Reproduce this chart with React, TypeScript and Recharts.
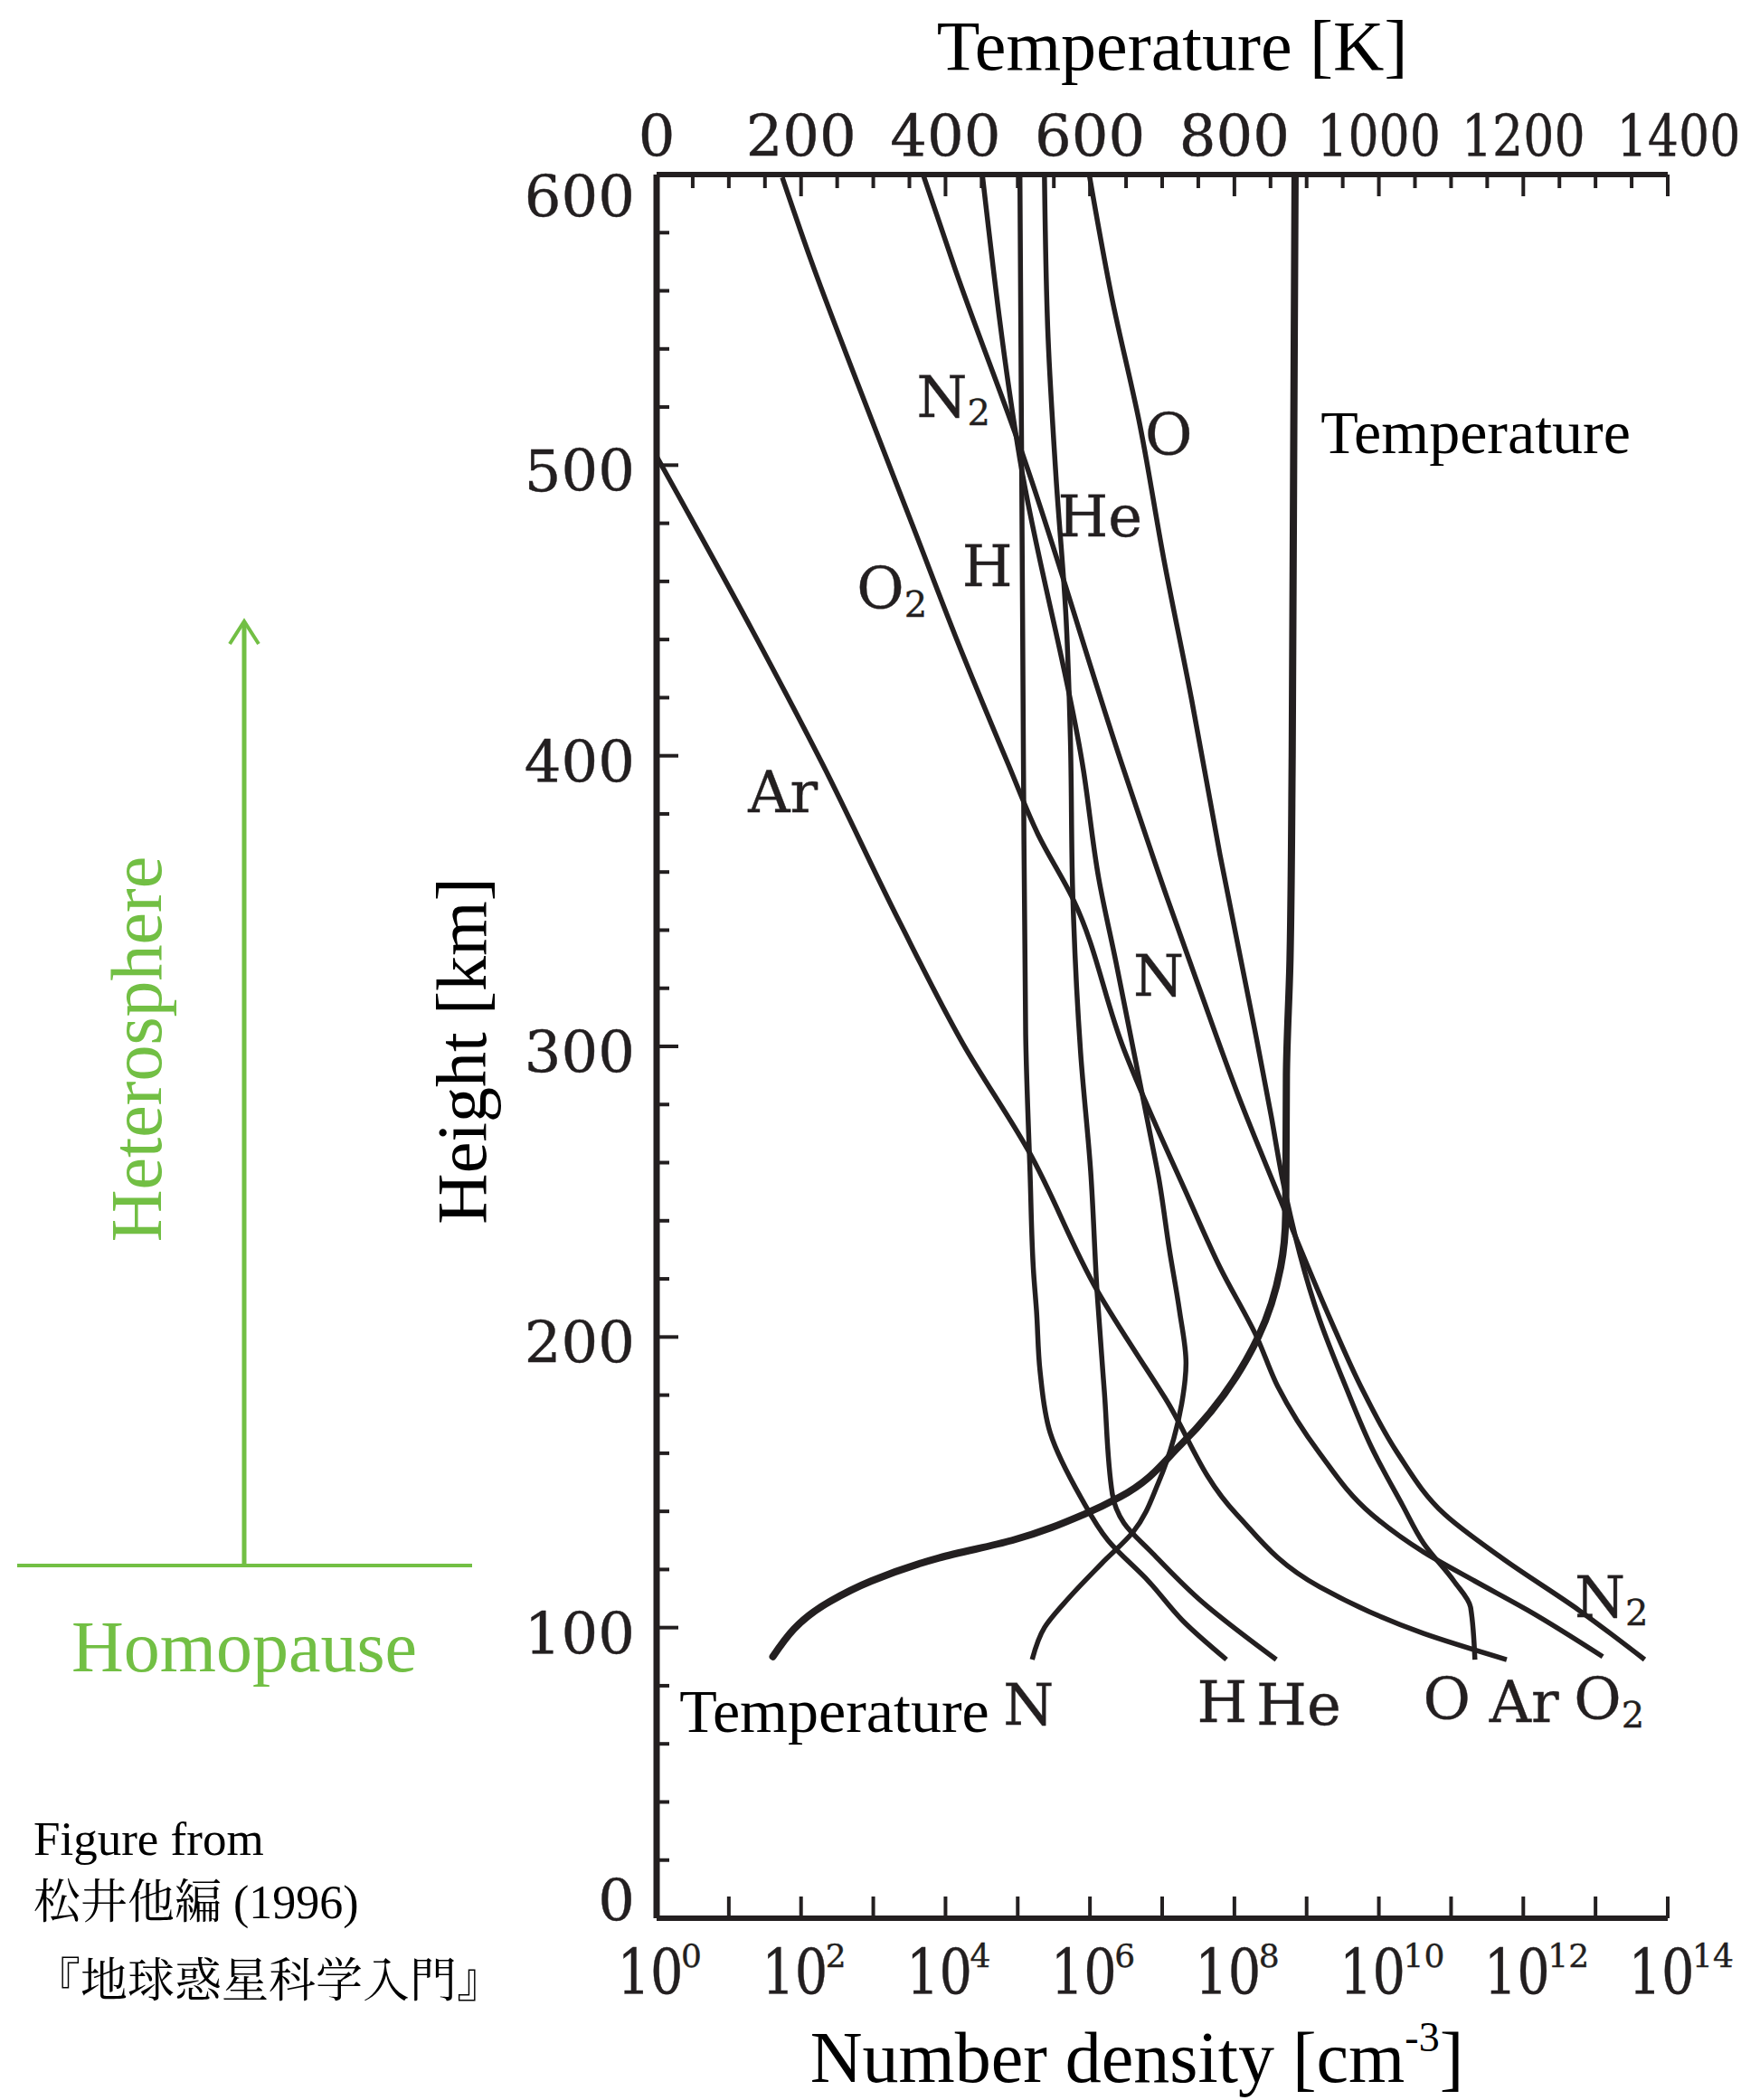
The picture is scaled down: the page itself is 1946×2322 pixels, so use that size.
import { ComposedChart, Line, XAxis, YAxis, ReferenceDot, Label } from "recharts";

const INK = "#231f20";
const GREEN = "#72bf44";
const FIG_FONT = "'DejaVu Serif', serif";
const TEXT_FONT = "'Liberation Serif', 'Times New Roman', serif";
const CJK_FONT = "'Liberation Serif', 'Noto Serif CJK JP', 'Noto Sans CJK JP', serif";

// [log10 number density (cm^-3), height (km)], from the top of the panel down
const N2: [number, number][] = [
  [3.69, 600], [4.14, 567], [5.05, 505], [6.47, 395], [7.07, 351], [7.5, 321],
  [8.04, 284], [8.64, 247], [9.33, 206], [9.75, 183], [10.26, 160], [10.91, 139],
  [11.7, 124], [12.77, 106], [13.68, 89],
];
const O: [number, number][] = [
  [5.99, 600], [6.3, 558], [6.69, 514], [7.02, 468], [7.41, 419], [7.8, 366],
  [8.28, 306], [8.51, 276], [8.66, 255], [9.18, 206], [9.54, 183], [9.9, 162],
  [10.33, 142], [10.62, 129], [11.04, 116], [11.27, 107], [11.33, 89],
];
const O2: [number, number][] = [
  [1.74, 599], [2.13, 571], [2.8, 527], [3.58, 477], [4.14, 441], [4.87, 397],
  [5.28, 373], [5.76, 351], [6.47, 299], [7.38, 247], [7.8, 224], [8.31, 200],
  [8.6, 183], [9.18, 160], [9.9, 139], [10.62, 126], [11.33, 116], [12.06, 106],
  [13.1, 90],
];
const Ar: [number, number][] = [
  [0, 503], [1.35, 442], [2.3, 397], [3.36, 343], [4.24, 301], [5.15, 264],
  [6.1, 216], [7.04, 179], [8.03, 139], [9.18, 114], [10.62, 98], [11.77, 89],
];
const He: [number, number][] = [
  [5.37, 600], [5.42, 544], [5.53, 496], [5.67, 447], [5.73, 405], [5.76, 354],
  [5.87, 298], [6.01, 257], [6.1, 215], [6.2, 181], [6.31, 146], [6.47, 136],
  [6.85, 126], [7.5, 110], [8.58, 89],
];
const H: [number, number][] = [
  [5.03, 600], [5.08, 395], [5.11, 304], [5.17, 257], [5.22, 222], [5.26, 209],
  [5.31, 188], [5.45, 167], [5.87, 145], [6.25, 130], [6.81, 116], [7.3, 102],
  [7.89, 89],
];
const N: [number, number][] = [
  [4.51, 600], [5.03, 502], [5.91, 395], [6.12, 358], [6.36, 329], [6.6, 299],
  [6.84, 269], [6.95, 255], [7.1, 230], [7.24, 209], [7.33, 191], [7.27, 177],
  [7.16, 165], [6.95, 150], [6.6, 133], [6.16, 122], [5.7, 110], [5.37, 100],
  [5.2, 89],
];

// [temperature (K), height (km)]
const temperature: [number, number][] = [
  [884, 600], [882, 500], [880, 400], [877, 330], [872, 290], [871, 242],
  [864, 224], [833, 200], [726, 163], [642, 145], [592, 139], [492, 130],
  [391, 124], [297, 116], [240, 109], [161, 90],
];

const densityExponents = [0, 1, 2, 3, 4, 5, 6, 7, 8, 9, 10, 11, 12, 13, 14];
const temperatureTicks = [
  0, 50, 100, 150, 200, 250, 300, 350, 400, 450, 500, 550, 600, 650, 700, 750,
  800, 850, 900, 950, 1000, 1050, 1100, 1150, 1200, 1250, 1300, 1350, 1400,
];
const heightTicks = [
  0, 20, 40, 60, 80, 100, 120, 140, 160, 180, 200, 220, 240, 260, 280, 300,
  320, 340, 360, 380, 400, 420, 440, 460, 480, 500, 520, 540, 560, 580, 600,
];

const speciesCurves = [N2, O, O2, Ar, He, H, N];

// curve names written next to the lines
const curveTags = [
  { text: "N", sub: "2", lg: 4.11, h: 524 },
  { text: "O", lg: 7.09, h: 511 },
  { text: "He", lg: 6.14, h: 483 },
  { text: "H", lg: 4.58, h: 466 },
  { text: "O", sub: "2", lg: 3.26, h: 458 },
  { text: "Ar", lg: 1.75, h: 388 },
  { text: "N", lg: 6.95, h: 325 },
  { text: "N", lg: 5.15, h: 74 },
  { text: "H", lg: 7.83, h: 75 },
  { text: "He", lg: 8.89, h: 74 },
  { text: "O", lg: 10.94, h: 76 },
  { text: "Ar", lg: 12.01, h: 75 },
  { text: "O", sub: "2", lg: 13.19, h: 76 },
  { text: "N", sub: "2", lg: 13.22, h: 111 },
];
const temperatureTags = [
  { text: "Temperature", t: 1134, h: 504 },
  { text: "Temperature", t: 246, h: 64 },
];

const densityRows = (pts: [number, number][]) => pts.map(([lg, h]) => ({ n: 10 ** lg, h }));
const temperatureRows = temperature.map(([t, h]) => ({ t, h }));

const figText = { fill: INK, stroke: INK, strokeWidth: 0.4, fontFamily: FIG_FONT };

const DensityTick = ({ x, y, payload }: any) => {
  const e = Math.round(Math.log10(payload.value));
  return (
    <g>
      <line x1={x} x2={x} y1={y} y2={y - 24} stroke={INK} strokeWidth={4} />
      {e % 2 === 0 && (
        <g {...figText}>
          <g transform={`translate(${x - 7},${y + 84}) scale(0.82,1)`}>
            <text x={0} y={0} textAnchor="middle" fontSize={70}>10</text>
          </g>
          <text x={x + 27} y={y + 54} fontSize={36}>{e}</text>
        </g>
      )}
    </g>
  );
};

const TemperatureTick = ({ x, y, payload }: any) => {
  const v = payload.value;
  const major = v % 200 === 0;
  // four-digit labels are set a little narrower so they stay apart
  const squeeze = v >= 1000 ? 0.84 : 1;
  const cx = v === 1400 ? x + 12 : x;
  return (
    <g>
      <line x1={x} x2={x} y1={y} y2={y + (major ? 24 : 15)} stroke={INK} strokeWidth={4} />
      {major && (
        <g transform={`translate(${cx},${y - 20}) scale(${squeeze},1)`}>
          <text x={0} y={0} textAnchor="middle" fontSize={64} {...figText}>
            {v}
          </text>
        </g>
      )}
    </g>
  );
};

const HeightTick = ({ x, y, payload }: any) => {
  const v = payload.value;
  const major = v % 100 === 0;
  const shift = v === 600 ? 23 : v === 0 ? -21 : 5;
  return (
    <g>
      <line x1={x} x2={x + (major ? 24 : 14)} y1={y} y2={y} stroke={INK} strokeWidth={4} />
      {major && (
        <text x={x - 24} y={y + shift + 24} textAnchor="end" fontSize={64} {...figText}>
          {v}
        </text>
      )}
    </g>
  );
};

const TopTitle = ({ viewBox }: any) => (
  <text x={viewBox.x + viewBox.width / 2 + 11} y={viewBox.y + 77} textAnchor="middle" fontSize={78} fill="#000" fontFamily={TEXT_FONT}>
    Temperature [K]
  </text>
);

const BottomTitle = ({ viewBox }: any) => (
  <text x={viewBox.x + viewBox.width / 2 - 28} y={viewBox.y + 181} textAnchor="middle" fontSize={80} fill="#000" fontFamily={TEXT_FONT}>
    Number density [cm<tspan fontSize={46} dy={-34}>-3</tspan>
    <tspan dy={34}>]</tspan>
  </text>
);

const SideTitle = ({ viewBox }: any) => (
  <text transform={`translate(${viewBox.x + 221},${viewBox.y + viewBox.height / 2 + 5}) rotate(-90)`} textAnchor="middle" fontSize={78} fill="#000" fontFamily={TEXT_FONT}>
    Height [km]
  </text>
);

const tagShape = (text: string, sub?: string) => (p: any) => (
  <text x={p.cx} y={p.cy + 24} textAnchor="middle" fontSize={64} {...figText}>
    {text}
    {sub && <tspan fontSize={40} dy={9}>{sub}</tspan>}
  </text>
);

const wordShape = (text: string) => (p: any) => (
  <text x={p.cx} y={p.cy} textAnchor="middle" fontSize={68} fill="#000" fontFamily={TEXT_FONT}>
    {text}
  </text>
);

export default function App() {
  return (
    <div style={{ position: "absolute", left: 0, top: 0, width: 1946, height: 2322, background: "#fff" }}>
      <ComposedChart width={1946} height={2322} margin={{ top: 0, right: 102, bottom: 0, left: 316 }}>
        <XAxis
          xAxisId="n"
          type="number"
          dataKey="n"
          scale="log"
          domain={[1, 1e14]}
          allowDataOverflow
          ticks={densityExponents.map((e) => 10 ** e)}
          interval={0}
          orientation="bottom"
          height={201}
          tickSize={0}
          tickMargin={0}
          tickLine={false}
          axisLine={{ stroke: INK, strokeWidth: 6 }}
          tick={DensityTick}
        >
          <Label content={BottomTitle} />
        </XAxis>
        <XAxis
          xAxisId="t"
          type="number"
          dataKey="t"
          domain={[0, 1400]}
          allowDataOverflow
          ticks={temperatureTicks}
          interval={0}
          orientation="top"
          height={193}
          tickSize={0}
          tickMargin={0}
          tickLine={false}
          axisLine={{ stroke: INK, strokeWidth: 6 }}
          tick={TemperatureTick}
        >
          <Label content={TopTitle} />
        </XAxis>
        <YAxis
          yAxisId="h"
          type="number"
          domain={[0, 600]}
          allowDataOverflow
          ticks={heightTicks}
          interval={0}
          width={410}
          tickSize={0}
          tickMargin={0}
          tickLine={false}
          axisLine={{ stroke: INK, strokeWidth: 7 }}
          tick={HeightTick}
        >
          <Label content={SideTitle} />
        </YAxis>
        <YAxis
          yAxisId="edge"
          orientation="right"
          type="number"
          domain={[0, 600]}
          width={0}
          tick={false}
          tickLine={false}
          axisLine={{ stroke: INK, strokeWidth: 5 }}
        />

        {speciesCurves.map((pts, i) => (
          <Line
            key={i}
            xAxisId="n"
            yAxisId="h"
            data={densityRows(pts)}
            dataKey="h"
            type="monotoneY"
            stroke={INK}
            strokeWidth={5.5}
            strokeLinejoin="round"
            dot={false}
            activeDot={false}
            isAnimationActive={false}
          />
        ))}
        <Line
          xAxisId="t"
          yAxisId="h"
          data={temperatureRows}
          dataKey="h"
          type="monotoneY"
          stroke={INK}
          strokeWidth={8}
          strokeLinecap="round"
          dot={false}
          activeDot={false}
          isAnimationActive={false}
        />

        {curveTags.map((tag, i) => (
          <ReferenceDot
            key={`tag-${i}`}
            xAxisId="n"
            yAxisId="h"
            x={10 ** tag.lg}
            y={tag.h}
            r={0}
            shape={tagShape(tag.text, tag.sub)}
          />
        ))}
        {temperatureTags.map((tag, i) => (
          <ReferenceDot
            key={`word-${i}`}
            xAxisId="t"
            yAxisId="h"
            x={tag.t}
            y={tag.h}
            r={0}
            shape={wordShape(tag.text)}
          />
        ))}
      </ComposedChart>

      <svg width={1946} height={2322} style={{ position: "absolute", left: 0, top: 0, pointerEvents: "none" }}>
        <line x1={19} y1={1731} x2={522} y2={1731} stroke={GREEN} strokeWidth={4} />
        <line x1={270} y1={1733} x2={270} y2={688} stroke={GREEN} strokeWidth={5} />
        <polyline points="254,712 270,687 286,712" fill="none" stroke={GREEN} strokeWidth={4} />
        <text transform="translate(178,1160) rotate(-90)" textAnchor="middle" fontSize={80} fill={GREEN} fontFamily={TEXT_FONT}>
          Heterosphere
        </text>
        <text x={270} y={1848} textAnchor="middle" fontSize={80} fill={GREEN} fontFamily={TEXT_FONT}>
          Homopause
        </text>
        <g fill="#000">
          <text x={37} y={2051} fontSize={53} fontFamily={TEXT_FONT}>Figure from</text>
          <text x={37} y={2121} fontSize={52} fontFamily={CJK_FONT}>松井他編 (1996)</text>
          <text x={37} y={2208} fontSize={52} fontFamily={CJK_FONT}>『地球惑星科学入門』</text>
        </g>
      </svg>
    </div>
  );
}
